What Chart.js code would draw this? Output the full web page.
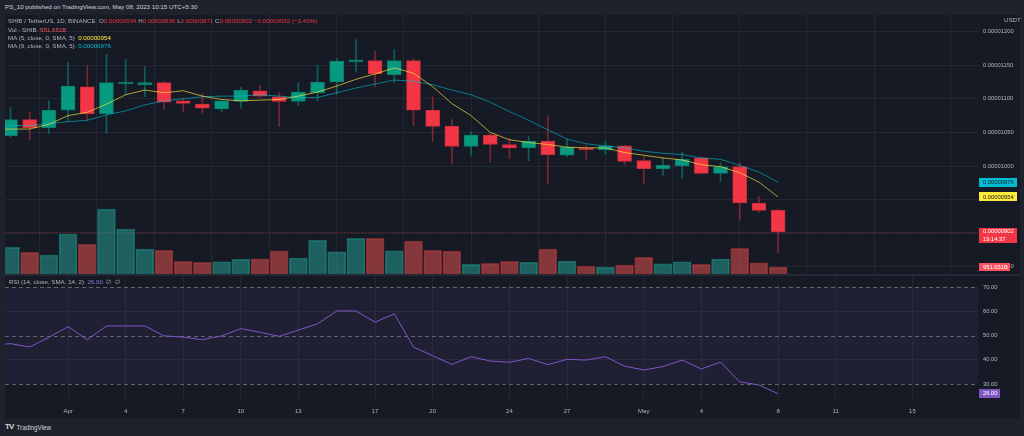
<!DOCTYPE html>
<html><head><meta charset="utf-8"><title>SHIB / TetherUS 1D</title>
<script src="https://cdn.jsdelivr.net/npm/chart.js@4.4.1/dist/chart.umd.min.js"></script>
<style>
html,body{margin:0;padding:0;}
body{width:1024px;height:436px;overflow:hidden;background:#1e222d;font-family:"Liberation Sans",Arial,sans-serif;position:relative;}
#frame{position:absolute;left:5px;top:15px;width:1015px;height:403px;background:#161a25;}
#sep{position:absolute;left:5px;top:274px;width:1015px;height:2px;background:#242835;}
canvas{position:absolute;left:0;}
#c1{top:15px;width:1024px;height:259px;}
#c2{top:276px;width:1024px;height:142px;}
.t{position:absolute;white-space:nowrap;font-size:6.2px;line-height:7px;color:#b2b5be;}
.r{color:#f23645}.y{color:#ffeb3b}.c{color:#00bcd4}.p{color:#9575cd}.vr{color:#f7525f}
</style></head><body>
<div id="frame"></div>
<div id="sep"></div>
<canvas id="c1" width="1024" height="259"></canvas>
<canvas id="c2" width="1024" height="142"></canvas>
<div class="t" style="left:5px;top:3.2px;color:#d1d4dc;">PS_10 published on TradingView.com, May 08, 2023 10:15 UTC+5:30</div>
<div class="t" id="l1" style="left:8px;top:17.2px;"></div>
<div class="t" id="l2" style="left:8px;top:25.5px;"></div>
<div class="t" id="l3" style="left:8px;top:33.8px;"></div>
<div class="t" id="l4" style="left:8px;top:42.2px;"></div>
<div class="t" id="l5" style="left:9px;top:278.2px;"></div>
<div class="t" style="left:1004px;top:15.5px;">USDT</div>
<div class="t" style="left:5px;top:423px;font-size:8px;font-weight:bold;color:#d1d4dc;letter-spacing:-0.8px;">TV</div>
<div class="t" style="left:16.5px;top:423.5px;font-size:6.3px;color:#d1d4dc;">TradingView</div>
<script>
// ---------- data ----------
const dates = ['Mar 28','Mar 29','Mar 30','Mar 31',
 'Apr 1','Apr 2','Apr 3','Apr 4','Apr 5','Apr 6','Apr 7','Apr 8','Apr 9','Apr 10',
 'Apr 11','Apr 12','Apr 13','Apr 14','Apr 15','Apr 16','Apr 17','Apr 18','Apr 19','Apr 20',
 'Apr 21','Apr 22','Apr 23','Apr 24','Apr 25','Apr 26','Apr 27','Apr 28','Apr 29','Apr 30',
 'May 1','May 2','May 3','May 4','May 5','May 6','May 7','May 8','May 9','May 10',
 'May 11','May 12','May 13','May 14','May 15','May 16','May 17','May 18','May 19'];
const open = [null,0.00001045,0.00001069,0.00001057,0.00001083,0.00001118,0.00001078,0.00001122,0.00001121,0.00001124,
 0.00001097,0.00001092,0.00001085,0.00001096,0.00001112,0.00001103,0.00001096,0.00001109,0.00001125,0.00001155,
 0.00001157,0.00001136,0.00001157,0.00001083,0.00001059,0.00001029,0.00001046,0.00001032,0.00001027,0.00001037,
 0.00001016,0.00001027,0.00001024,0.00001030,0.00001008,0.00000996,0.00001000,0.00001012,0.00000989,0.00000999,
 0.00000945,0.00000934];
const high = [null,0.00001087,0.00001080,0.00001097,0.00001154,0.00001150,0.00001166,0.00001159,0.00001148,0.00001126,
 0.00001101,0.00001108,0.00001097,0.00001117,0.00001120,0.00001109,0.00001124,0.00001150,0.00001160,0.00001188,
 0.00001171,0.00001173,0.00001160,0.00001103,0.00001069,0.00001051,0.00001048,0.00001041,0.00001044,0.00001075,
 0.00001040,0.00001031,0.00001037,0.00001031,0.00001014,0.00001012,0.00001021,0.00001014,0.00001005,0.00001005,
 0.00000954,0.00000936];
const low = [null,0.00001043,0.00001039,0.00001048,0.00001068,0.00001068,0.00001049,0.00001106,0.00001103,0.00001084,
 0.00001081,0.00001078,0.00001081,0.00001086,0.00001102,0.00001059,0.00001090,0.00001097,0.00001107,0.00001140,
 0.00001118,0.00001124,0.00001060,0.00001036,0.00001003,0.00001016,0.00001006,0.00001011,0.00001008,0.00000973,
 0.00001014,0.00001010,0.00001018,0.00001002,0.00000974,0.00000986,0.00000982,0.00000988,0.00000977,0.00000919,
 0.00000931,0.00000871];
const close = [null,0.00001069,0.00001057,0.00001083,0.00001119,0.00001078,0.00001124,0.00001125,0.00001124,0.00001095,
 0.00001093,0.00001086,0.00001097,0.00001113,0.00001104,0.00001096,0.00001110,0.00001125,0.00001156,0.00001158,
 0.00001137,0.00001157,0.00001083,0.00001059,0.00001029,0.00001046,0.00001032,0.00001027,0.00001037,0.00001017,
 0.00001028,0.00001024,0.00001030,0.00001007,0.00000996,0.00001001,0.00001010,0.00000989,0.00000999,0.00000945,
 0.00000934,0.00000902];
const volumeB = [null,3740,3040,2660,5600,4160,9100,6300,3500,3320,1780,1640,1720,2060,2140,3260,2240,4720,3120,5000,
 5000,3260,4620,3320,3220,1360,1500,1780,1640,3500,1820,1120,940,1260,2340,1440,1720,1360,2100,3600,1580,951.651];
const ma5 = [0.00001054,0.00001055,0.00001055,0.00001062,0.00001075,0.00001080,0.00001092,0.00001106,0.00001113,0.00001109,
 0.00001112,0.00001104,0.00001099,0.00001097,0.00001098,0.00001099,0.00001104,0.00001110,0.00001119,0.00001129,
 0.00001137,0.00001146,0.00001138,0.00001118,0.00001093,0.00001075,0.00001050,0.00001039,0.00001035,0.00001032,
 0.00001028,0.00001027,0.00001027,0.00001020,0.00001016,0.00001012,0.00001009,0.00001002,0.00000999,0.00000990,
 0.00000976,0.00000954];
const ma9 = [0.00001059,0.00001060,0.00001060,0.00001063,0.00001066,0.00001068,0.00001076,0.00001082,0.00001091,0.00001097,
 0.00001100,0.00001103,0.00001104,0.00001104,0.00001106,0.00001104,0.00001102,0.00001102,0.00001109,0.00001116,
 0.00001122,0.00001128,0.00001126,0.00001121,0.00001113,0.00001106,0.00001095,0.00001081,0.00001068,0.00001054,
 0.00001040,0.00001033,0.00001030,0.00001027,0.00001022,0.00001019,0.00001017,0.00001012,0.00001010,0.00001001,
 0.00000991,0.00000976];
const rsi = [46.0,46.7,45.3,49.3,53.7,48.3,54.0,54.0,54.0,49.9,49.4,48.3,49.9,52.9,51.4,49.7,52.3,54.9,60.2,60.2,
 55.6,59.0,45.3,41.7,38.1,41.3,39.5,39.0,40.6,38.0,40.2,39.9,41.3,37.4,35.8,37.2,39.9,36.2,39.1,30.9,29.6,26.0];
const priceTicks = [0.0000085,0.000009,0.0000095,0.00001,0.0000105,0.000011,0.0000115,0.000012];
const rsiTicks = [30,40,50,60,70];
const rsiLevels = [70,50,30];
const tickDates = ['Apr 1','Apr 4','Apr 7','Apr 10','Apr 13','Apr 17','Apr 20','Apr 24','Apr 27','May 1','May 4','May 8','May 11','May 15'];
const tickLabels = ['Apr','4','7','10','13','17','20','24','27','May','4','8','11','15'];

// ---------- layout / style ----------
const X_MIN = 0.7134, X_MAX = 51.417;
const PRICE_MIN = 0.000008393, PRICE_MAX = 0.000012247;
const VOL_MAX = 36260;
const RSI_MIN = 22.97, RSI_MAX = 74.67;
const GRID = 'rgba(42,46,57,0.65)';
const FONT = '"Liberation Sans", Arial, sans-serif';
const TXT = '#b2b5be';
Chart.defaults.font.family = FONT;

const ks = close.map((c,k)=>k).filter(k=>close[k]!=null);
const last = ks[ks.length-1];
const isUp = k => close[k] >= open[k];
const tickPos = tickDates.map(d=>dates.indexOf(d));
const f8 = v => v.toFixed(8);

// ---------- legends ----------
const chg = close[last]-close[last-1];
document.getElementById('l1').innerHTML = 'SHIB / TetherUS, 1D, BINANCE&nbsp; O<span class="r">'+f8(open[last])+'</span> H<span class="r">'+f8(high[last])+
 '</span> L<span class="r">'+f8(low[last])+'</span> C<span class="r">'+f8(close[last])+'</span> <span class="r">\u2212'+f8(Math.abs(chg))+
 ' (\u2212'+(Math.abs(chg)/close[last-1]*100).toFixed(2)+'%)</span>';
document.getElementById('l2').innerHTML = 'Vol - SHIB&nbsp; <span class="vr">'+volumeB[last].toFixed(3)+'B</span>';
document.getElementById('l3').innerHTML = 'MA (5, close, 0, SMA, 5)&nbsp; <span class="y">'+f8(ma5[last])+'</span>';
document.getElementById('l4').innerHTML = 'MA (9, close, 0, SMA, 5)&nbsp; <span class="c">'+f8(ma9[last])+'</span>';
document.getElementById('l5').innerHTML = 'RSI (14, close, SMA, 14, 2)&nbsp; <span class="p">'+rsi[last].toFixed(2)+'</span>&nbsp; \u2205&nbsp; \u2205';

function drawBox(ctx, x, top, w, h, bg, lines, fg){
  ctx.fillStyle = bg;
  ctx.fillRect(x, top, w, h);
  ctx.fillStyle = fg;
  ctx.font = '5.8px ' + FONT;
  ctx.textAlign = 'left';
  ctx.textBaseline = 'middle';
  lines.forEach(l => ctx.fillText(l.t, x + 4, l.y));
}

const pricePlugin = {
  id: 'priceExtras',
  beforeDatasetsDraw(chart){
    const ctx = chart.ctx, a = chart.chartArea, p = chart.scales.y;
    const yl = Math.round(p.getPixelForValue(close[last])) + 0.5;
    ctx.save();
    ctx.strokeStyle = 'rgba(242,54,69,0.38)';
    ctx.lineWidth = 1;
    ctx.setLineDash([1.5,1.5]);
    ctx.beginPath(); ctx.moveTo(a.left, yl); ctx.lineTo(a.right, yl); ctx.stroke();
    ctx.restore();
  },
  afterDraw(chart){
    const ctx = chart.ctx, a = chart.chartArea, p = chart.scales.y, v = chart.scales.yv;
    const x0 = a.right + 1;
    ctx.save();
    let y = p.getPixelForValue(ma9[last]);
    drawBox(ctx, x0, Math.round(y-4.5), 38, 9, '#00bcd4', [{t:f8(ma9[last]), y:y}], '#131722');
    y = p.getPixelForValue(ma5[last]);
    drawBox(ctx, x0, Math.round(y-4.5), 38, 9, '#ffeb3b', [{t:f8(ma5[last]), y:y}], '#131722');
    y = p.getPixelForValue(close[last]);
    drawBox(ctx, x0, Math.round(y-4), 38, 15, '#f23645', [{t:f8(close[last]), y:y}, {t:'19:14:37', y:y+7.3}], '#ffffff');
    y = v.getPixelForValue(volumeB[last]);
    drawBox(ctx, x0, Math.round(y-4), 31, 8, '#f7525f', [{t:volumeB[last].toFixed(3)+'B', y:y}], '#ffffff');
    ctx.restore();
  }
};

const xScaleBase = {
  type:'linear', min:X_MIN, max:X_MAX, offset:false,
  afterBuildTicks: s => { s.ticks = tickPos.map(v=>({value:v})); },
  grid:{color:GRID, drawTicks:false}, border:{display:false}
};

new Chart(document.getElementById('c1'), {
  type:'bar',
  data:{datasets:[
    {type:'bar', label:'Volume', yAxisID:'yv', order:5, grouped:false, clip:0,
     data: ks.map(k=>({x:k, y:volumeB[k]})),
     backgroundColor: ks.map(k=>isUp(k)?'rgba(38,166,154,0.5)':'rgba(239,83,80,0.5)'),
     borderColor: ks.map(k=>isUp(k)?'rgba(24,96,92,1)':'rgba(112,40,46,1)'),
     borderWidth:1, barThickness:18},
    {type:'bar', label:'Wick', yAxisID:'y', order:4, grouped:false, clip:0,
     data: ks.map(k=>({x:k, y:[low[k], high[k]]})),
     backgroundColor: ks.map(k=>isUp(k)?'rgba(8,153,129,0.55)':'rgba(242,54,69,0.45)'),
     barThickness:1},
    {type:'bar', label:'SHIB / TetherUS', yAxisID:'y', order:3, grouped:false, clip:0,
     data: ks.map(k=>({x:k, y:[open[k], close[k]]})),
     backgroundColor: ks.map(k=>isUp(k)?'#089981':'#f23645'),
     borderColor: ks.map(k=>isUp(k)?'#0a7f6c':'#c92f3c'),
     borderWidth:1, borderSkipped:false, barThickness:14, minBarLength:2},
    {type:'line', label:'MA 9', yAxisID:'y', order:2,
     data: ma9.map((v,k)=>({x:k, y:v})), borderColor:'rgba(0,188,212,0.6)', borderWidth:1, pointRadius:0},
    {type:'line', label:'MA 5', yAxisID:'y', order:1,
     data: ma5.map((v,k)=>({x:k, y:v})), borderColor:'rgba(255,235,59,0.65)', borderWidth:1, pointRadius:0}
  ]},
  options:{
    responsive:false, maintainAspectRatio:false, animation:false, events:[],
    layout:{padding:{left:5,right:0,top:0,bottom:0}},
    plugins:{legend:{display:false}, tooltip:{enabled:false}},
    scales:{
      x: Object.assign({}, xScaleBase, {ticks:{display:false},
         afterFit: s => { s.height = 0; s.paddingLeft = 0; s.paddingRight = 0; }}),
      y: {position:'right', min:PRICE_MIN, max:PRICE_MAX,
          afterBuildTicks: s => { s.ticks = priceTicks.map(v=>({value:v})); },
          ticks:{color:TXT, font:{size:5.8}, padding:5, callback: v => f8(v)},
          grid:{color:GRID, drawTicks:false}, border:{display:false},
          afterFit: s => { s.width = 46; s.paddingTop = 0; s.paddingBottom = 0; }},
      yv: {display:false, min:0, max:VOL_MAX}
    }
  },
  plugins:[pricePlugin]
});

const rsiPlugin = {
  id:'rsiExtras',
  beforeDatasetsDraw(chart){
    const ctx = chart.ctx, a = chart.chartArea, s = chart.scales.y;
    const yTop = s.getPixelForValue(rsiLevels[0]), yBot = s.getPixelForValue(rsiLevels[2]);
    ctx.save();
    ctx.fillStyle = 'rgba(126,87,194,0.1)';
    ctx.fillRect(a.left, yTop, a.right - a.left, yBot - yTop);
    ctx.strokeStyle = 'rgba(120,123,134,0.75)';
    ctx.lineWidth = 1;
    ctx.setLineDash([4,3]);
    rsiLevels.forEach(l => {
      const y = Math.round(s.getPixelForValue(l)) + 0.5;
      ctx.beginPath(); ctx.moveTo(a.left, y); ctx.lineTo(a.right, y); ctx.stroke();
    });
    ctx.restore();
  },
  afterDraw(chart){
    const ctx = chart.ctx, a = chart.chartArea, s = chart.scales.y;
    const y = s.getPixelForValue(rsi[last]);
    ctx.save();
    drawBox(ctx, a.right + 1, Math.round(y-4.5), 21, 9, '#7e57c2', [{t:rsi[last].toFixed(2), y:y}], '#ffffff');
    ctx.restore();
  }
};

new Chart(document.getElementById('c2'), {
  type:'line',
  data:{datasets:[
    {label:'RSI', data: rsi.map((v,k)=>({x:k, y:v})), borderColor:'#7e57c2', borderWidth:1, pointRadius:0}
  ]},
  options:{
    responsive:false, maintainAspectRatio:false, animation:false, events:[],
    layout:{padding:{left:5,right:0,top:0,bottom:0}},
    plugins:{legend:{display:false}, tooltip:{enabled:false}},
    scales:{
      x: Object.assign({}, xScaleBase, {
         ticks:{color:TXT, font:{size:6}, padding:7, autoSkip:false, maxRotation:0, callback:(v,i)=>tickLabels[i]},
         afterFit: s => { s.height = 17; s.paddingLeft = 0; s.paddingRight = 0; }}),
      y: {position:'right', min:RSI_MIN, max:RSI_MAX,
          afterBuildTicks: s => { s.ticks = rsiTicks.map(v=>({value:v})); },
          ticks:{color:TXT, font:{size:5.8}, padding:5, callback: v => v.toFixed(2)},
          grid:{color: c => (c.tick && (c.tick.value===40 || c.tick.value===60)) ? GRID : 'rgba(0,0,0,0)', drawTicks:false},
          border:{display:false},
          afterFit: s => { s.width = 46; s.paddingTop = 0; s.paddingBottom = 0; }}
    }
  },
  plugins:[rsiPlugin]
});
</script>
</body></html>
